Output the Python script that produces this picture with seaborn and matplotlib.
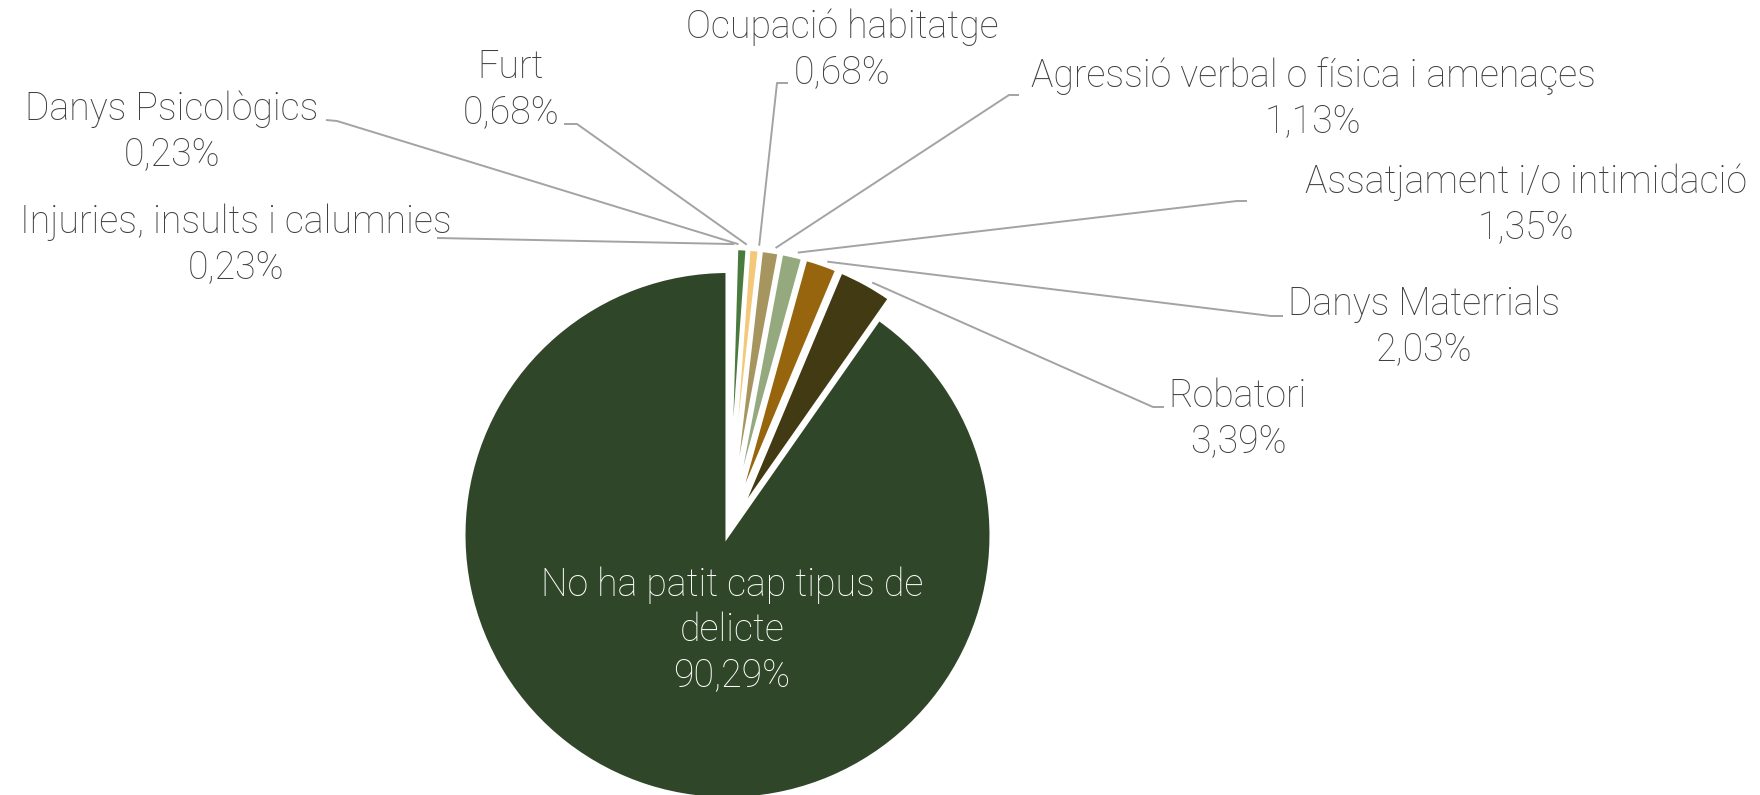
import numpy as np
import matplotlib
matplotlib.use("Agg")
import matplotlib.pyplot as plt
import seaborn as sns

# ---------------- data ----------------
categories = [
    "Injuries, insults i calumnies",
    "Danys Psicològics",
    "Furt",
    "Ocupació habitatge",
    "Agressió verbal o física i amenaçes",
    "Assatjament i/o intimidació",
    "Danys Materrials",
    "Robatori",
    "No ha patit cap tipus de\ndelicte",
]
values = [0.23, 0.23, 0.68, 0.68, 1.13, 1.35, 2.03, 3.39, 90.29]
value_labels = ["0,23%", "0,23%", "0,68%", "0,68%", "1,13%", "1,35%", "2,03%", "3,39%", "90,29%"]
colors = ["#3a5a30", "#6f8f55", "#4b7a3e", "#f3c878", "#a7955f",
          "#94aa7e", "#96650d", "#423a12", "#2f4628"]

# ---------------- layout (pixels, origin top-left) ----------------
W, H = 1760, 795
sns.set_theme(style="white")
plt.rcParams["font.family"] = ["Roboto", "DejaVu Sans"]

fig = plt.figure(figsize=(W / 100, H / 100), dpi=100)
ax = fig.add_axes([0, 0, 1, 1])

def py(y):
    return H - y

pie_center = (727.5, py(535))
pie_radius = 264
explode = [23] * 8 + [0]

wedges, _ = ax.pie(values, colors=sns.color_palette(colors), startangle=90,
                   counterclock=False, center=pie_center, radius=pie_radius,
                   explode=explode,
                   wedgeprops=dict(edgecolor="white", linewidth=2.9))

ax.set_xlim(0, W)
ax.set_ylim(0, H)
ax.set_aspect("equal")
ax.axis("off")

text_color = "#404040"
fs = 27
# label centres x and baselines (two lines)
label_x = [236, 172, 511, 842, 1313, 1526, 1424, 1238]
label_base = [233, 120, 78, 38, 87, 193, 315, 407]
# leader start and knee points
lead_start = [(437, 238), (326, 120), (564, 124), (788, 83),
              (1019, 95), (1247, 201), (1283, 316), (1164, 407)]
lead_knee = [(437, 238), (337, 121), (577, 124), (777, 83),
             (1009, 95), (1237, 201), (1271, 316), (1153, 407)]

for i in range(8):
    name = categories[i]
    ax.text(label_x[i], py(label_base[i]), name, ha="center", va="baseline",
            fontsize=fs, color=text_color, fontweight="light")
    ax.text(label_x[i], py(label_base[i] + 45), value_labels[i], ha="center",
            va="baseline", fontsize=fs, color=text_color, fontweight="light")
    w = wedges[i]
    mid = np.deg2rad((w.theta1 + w.theta2) / 2 - 1.0)
    cx, cy = w.center
    ex = cx + (w.r + 4) * np.cos(mid)
    ey = cy + (w.r + 4) * np.sin(mid)
    xs = [lead_start[i][0], lead_knee[i][0], ex]
    ys = [py(lead_start[i][1]), py(lead_knee[i][1]), ey]
    ax.plot(xs, ys, color="#a3a3a3", lw=1.4, solid_capstyle="butt", zorder=0)

# big slice label (inside, white)
big_lines = categories[8].split("\n") + [value_labels[8]]
for j, line in enumerate(big_lines):
    ax.text(732, py(596 + 45 * j), line, ha="center", va="baseline",
            fontsize=fs, color="white", fontweight="light")

fig.savefig("out.png", dpi=100)
